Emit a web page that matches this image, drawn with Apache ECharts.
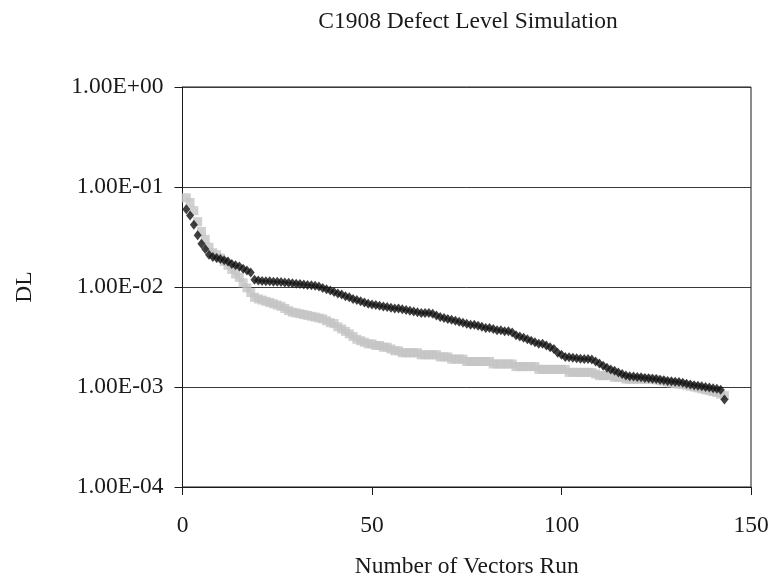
<!DOCTYPE html>
<html>
<head>
<meta charset="utf-8">
<script src="https://cdn.jsdelivr.net/npm/echarts@6/dist/echarts.min.js"></script>
<style>html,body{margin:0;padding:0;background:#fff}#c{width:772px;height:584px}</style>
</head>
<body>
<div id="c"></div>
<script>
var titleText = "C1908 Defect Level Simulation";
var xAxisName = "Number of Vectors Run";
var yAxisName = "DL";
var xTicks = [0, 50, 100, 150];
var yTicks = [1e-4, 1e-3, 1e-2, 1e-1, 1];

var blackDL = [
  0.060, 0.052, 0.042, 0.033, 0.027, 0.024, 0.021, 0.020, 0.0195, 0.019,
  0.0185, 0.018, 0.017, 0.0165, 0.016, 0.0152, 0.0146, 0.014, 0.0118, 0.0116,
  0.0115, 0.0114, 0.0114, 0.0113, 0.0113, 0.0112, 0.0111, 0.0110,
  0.0109, 0.0108, 0.0107, 0.0106, 0.0105, 0.0104, 0.0103, 0.0101,
  0.0098, 0.0095, 0.0092, 0.0089, 0.0086, 0.0084, 0.0081, 0.0079,
  0.0076, 0.0074, 0.0072, 0.0070, 0.0068, 0.0067, 0.0066, 0.0065,
  0.0064, 0.0063, 0.0062, 0.0061, 0.0061, 0.0060, 0.0059, 0.0058,
  0.0057, 0.0056, 0.0055, 0.0055, 0.0055, 0.0054, 0.0052, 0.0050,
  0.0049, 0.0048, 0.0047, 0.0046, 0.0045, 0.0044, 0.0043, 0.0042,
  0.0042, 0.0041, 0.0040, 0.0039, 0.0039, 0.0038, 0.0037, 0.0037,
  0.0036, 0.0036, 0.0035, 0.0033, 0.0032, 0.0031, 0.0030, 0.0029,
  0.0028, 0.0027, 0.0027, 0.0026, 0.0025, 0.0024, 0.0022, 0.0021,
  0.0020, 0.00198, 0.00196, 0.00194, 0.00192, 0.0019, 0.0019, 0.00188,
  0.0018, 0.00172, 0.00163, 0.00156, 0.0015, 0.00145, 0.0014, 0.00135,
  0.0013, 0.00128, 0.00127, 0.00126, 0.00125, 0.00123, 0.00122, 0.00121,
  0.0012, 0.00118, 0.00117, 0.00115, 0.00114, 0.00113, 0.00112, 0.0011,
  0.00108, 0.00106, 0.00104, 0.00103, 0.00102, 0.0010, 0.00099, 0.00097,
  0.00096, 0.00094, 0.00075
];

var grayDL = [
  0.078, 0.070, 0.058, 0.045, 0.036, 0.030, 0.025, 0.022, 0.021, 0.0195,
  0.018, 0.0165, 0.015, 0.0135, 0.0125, 0.011, 0.0098, 0.0088, 0.0079, 0.0076,
  0.0074, 0.0072, 0.0070, 0.0068, 0.0066, 0.0064, 0.0061, 0.0058,
  0.0056, 0.0055, 0.0054, 0.0053, 0.0052, 0.0051, 0.0050, 0.0049,
  0.0048, 0.0046, 0.0044, 0.0043, 0.0040, 0.0038, 0.0036, 0.0034,
  0.0032, 0.0030, 0.0029, 0.0028, 0.0027, 0.0027, 0.0026, 0.0026,
  0.0025, 0.0025, 0.0024, 0.0023, 0.0023, 0.0022, 0.0022, 0.0022,
  0.0022, 0.0022, 0.0021, 0.0021, 0.0021, 0.0021, 0.0021, 0.0020,
  0.0020, 0.0020, 0.0019, 0.0019, 0.0019, 0.0019, 0.0018, 0.0018,
  0.0018, 0.0018, 0.0018, 0.0018, 0.0018, 0.0017, 0.0017, 0.0017,
  0.0017, 0.0017, 0.0017, 0.0016, 0.0016, 0.0016, 0.0016, 0.0016,
  0.0016, 0.0015, 0.0015, 0.0015, 0.0015, 0.0015, 0.0015, 0.0015,
  0.0015, 0.0014, 0.0014, 0.0014, 0.0014, 0.0014, 0.0014, 0.0014,
  0.00135, 0.0013, 0.0013, 0.0013, 0.0013, 0.00125, 0.00125, 0.00125,
  0.0012, 0.0012, 0.0012, 0.0012, 0.0012, 0.0012, 0.0012, 0.0012,
  0.00118, 0.00116, 0.00114, 0.00112, 0.0011, 0.00108, 0.00107, 0.00106,
  0.00104, 0.00102, 0.0010, 0.00098, 0.00096, 0.00094, 0.00092, 0.0009,
  0.00088, 0.00085, 0.00082
];

function pairs(arr) {
  return arr.map(function (v, i) { return [i + 1, v]; });
}
function fmtExp(v) {
  var e = Math.round(Math.log10(v));
  var m = v / Math.pow(10, e);
  var sign = e < 0 ? "-" : "+";
  var a = Math.abs(e);
  return m.toFixed(2) + "E" + sign + (a < 10 ? "0" + a : "" + a);
}

var font = "'Liberation Serif', 'Times New Roman', serif";
var fs = 23.5;
var chart = echarts.init(document.getElementById('c'), null, { renderer: 'canvas' });
chart.setOption({
  animation: false,
  backgroundColor: '#ffffff',
  title: {
    text: titleText,
    left: 463, top: 5,
    textAlign: 'center',
    textStyle: { fontFamily: font, fontSize: fs, fontWeight: 'normal', color: '#1a1a1a' }
  },
  grid: {
    left: 182.5, right: 21, top: 87, bottom: 91,
    show: true, borderColor: '#1a1a1a', borderWidth: 1, backgroundColor: 'transparent'
  },
  xAxis: {
    type: 'value',
    min: xTicks[0], max: xTicks[xTicks.length - 1], interval: 50,
    name: xAxisName, nameLocation: 'middle', nameGap: 68,
    nameTextStyle: { fontFamily: font, fontSize: fs, color: '#1a1a1a' },
    axisLine: { show: true, lineStyle: { color: '#1a1a1a', width: 1 } },
    axisTick: { show: true, inside: false, length: 8, lineStyle: { color: '#1a1a1a' } },
    axisLabel: { fontFamily: font, fontSize: fs, color: '#1a1a1a', margin: 27 },
    splitLine: { show: false }
  },
  yAxis: {
    type: 'log', logBase: 10,
    min: yTicks[0], max: yTicks[yTicks.length - 1],
    name: yAxisName, nameLocation: 'middle', nameGap: 146, nameRotate: 90,
    nameTextStyle: { fontFamily: font, fontSize: fs, color: '#1a1a1a' },
    axisLine: { show: true, lineStyle: { color: '#1a1a1a', width: 1 } },
    axisTick: { show: true, inside: false, length: 8, lineStyle: { color: '#1a1a1a' } },
    axisLabel: { fontFamily: font, fontSize: fs, color: '#1a1a1a', margin: 19, formatter: fmtExp },
    splitLine: { show: true, lineStyle: { color: '#3a3a3a', width: 1 } }
  },
  series: [
    {
      name: 'gray', type: 'scatter', data: pairs(grayDL),
      symbol: 'rect', symbolSize: 9,
      itemStyle: { color: '#c4c4c4' }, z: 2
    },
    {
      name: 'black', type: 'scatter', data: pairs(blackDL),
      symbol: 'diamond', symbolSize: [8, 10],
      itemStyle: { color: '#111111' }, z: 3
    }
  ]
});
</script>
</body>
</html>
